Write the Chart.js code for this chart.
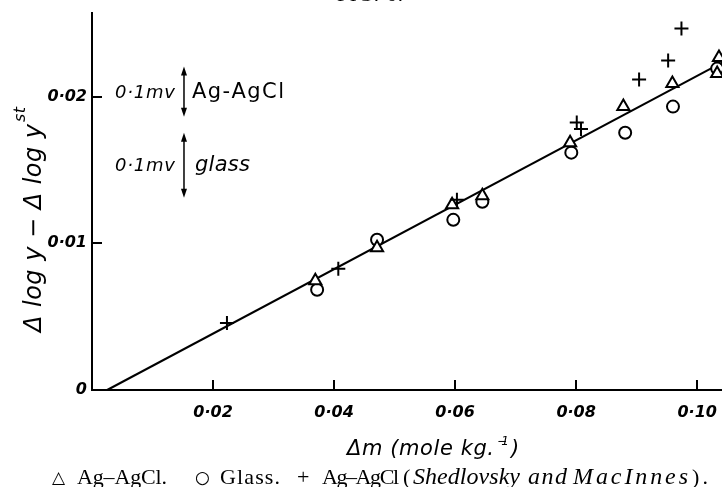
<!DOCTYPE html>
<html>
<head>
<meta charset="utf-8">
<script src="https://cdn.jsdelivr.net/npm/chart.js@4"></script>
<style>
  html, body { margin: 0; padding: 0; background: #fff; }
  #wrap { position: relative; width: 722px; height: 487px; overflow: hidden; }
  #fig { position: absolute; left: 337px; top: -16px; font: 21px "Liberation Serif"; letter-spacing: 1px; line-height: 21px; color: #000; }
</style>
</head>
<body>
<div id="wrap">
  <canvas id="canvas" width="722" height="487"></canvas>
  <div id="fig">FIG. 6.</div>
</div>
<script>
// data (x = delta m, y = delta log y - delta log y st)
const agX    = [0.0369, 0.0471, 0.0595, 0.0645, 0.0790, 0.0878, 0.0959, 0.1036, 0.1033];
const agY    = [0.00744, 0.0097, 0.01263, 0.01324, 0.01686, 0.01932, 0.02089, 0.02266, 0.02157];
const glassX = [0.0372, 0.0471, 0.0597, 0.0645, 0.0792, 0.0881, 0.0960, 0.1033];
const glassY = [0.00683, 0.01024, 0.0116, 0.01283, 0.01618, 0.01754, 0.01932, 0.02191];
const smX    = [0.0223, 0.0407, 0.0603, 0.0801, 0.0808, 0.0904, 0.0952, 0.0974];
const smY    = [0.00457, 0.00826, 0.01297, 0.01823, 0.0178, 0.02116, 0.02246, 0.02464];
const fitX   = [0.0025, 0.1045];
const fitY   = [0, 0.0224];
const xTicks = [0.02, 0.04, 0.06, 0.08, 0.10];
const yTicks = [0, 0.01, 0.02];

// the two "0.1 mv" bars, in data units
const barX = 0.0152;
const barLabels = ["Ag-AgCl", "glass"];
const barTop = [0.02205, 0.01754];
const barBottom = [0.01863, 0.01311];

const pts = (xs, ys) => xs.map((x, i) => ({ x: x, y: ys[i] }));
const fmt = v => v === 0 ? "0" : v.toFixed(2).replace(".", "\u00b7");

// draw text char by char, spreading it between x0 and x1
function spaced(ctx, text, x0, x1, y, font) {
  ctx.font = font;
  const chars = Array.from(text);
  const w = chars.map(c => ctx.measureText(c).width);
  const natural = w.reduce((a, b) => a + b, 0);
  const gap = chars.length > 1 ? (x1 - x0 - natural) / (chars.length - 1) : 0;
  let x = x0;
  chars.forEach((c, i) => { ctx.fillText(c, x, y); x += w[i] + gap; });
}

function arrowHead(ctx, x, y, dir) {
  ctx.beginPath();
  ctx.moveTo(x, y);
  ctx.lineTo(x - 3, y - dir * 9);
  ctx.lineTo(x + 3, y - dir * 9);
  ctx.closePath();
  ctx.fill();
}

const decor = {
  id: "decor",
  afterDraw(chart) {
    const { ctx, chartArea: a } = chart;
    const xs = chart.scales.x, ys = chart.scales.y;
    ctx.save();
    ctx.strokeStyle = "#000";
    ctx.fillStyle = "#000";
    ctx.textAlign = "left";
    ctx.textBaseline = "alphabetic";

    // inward tick marks
    ctx.lineWidth = 2;
    xTicks.forEach(v => {
      const px = Math.round(xs.getPixelForValue(v));
      ctx.beginPath(); ctx.moveTo(px, a.bottom); ctx.lineTo(px, a.bottom - 10); ctx.stroke();
    });
    yTicks.forEach(v => {
      const py = Math.round(ys.getPixelForValue(v));
      ctx.beginPath(); ctx.moveTo(a.left, py); ctx.lineTo(a.left + 10, py); ctx.stroke();
    });

    // 0.1 mv bars
    const bx = xs.getPixelForValue(barX);
    barLabels.forEach((lab, i) => {
      const t = ys.getPixelForValue(barTop[i]);
      const b = ys.getPixelForValue(barBottom[i]);
      ctx.lineWidth = 1.5;
      ctx.beginPath(); ctx.moveTo(bx, t + 4); ctx.lineTo(bx, b - 4); ctx.stroke();
      arrowHead(ctx, bx, t, -1);
      arrowHead(ctx, bx, b, 1);
      const base = (t + b) / 2 + 6;
      spaced(ctx, "0\u00b71mv", bx - 69, bx - 9, base, "italic 18px 'DejaVu Sans'");
      if (i === 0) spaced(ctx, lab, bx + 8, bx + 100, base, "21px 'DejaVu Sans'");
      else spaced(ctx, lab, bx + 11, bx + 66, base, "italic 21px 'DejaVu Sans'");
    });

    // x title
    spaced(ctx, "\u0394m (mole kg.", 347, 494, 455, "italic 21px 'DejaVu Sans'");
    spaced(ctx, "\u22121", 497, 509, 445, "italic 12px 'DejaVu Sans'");
    spaced(ctx, ")", 511, 518, 455, "italic 21px 'DejaVu Sans'");

    // y title, rotated
    ctx.save();
    ctx.translate(41, 332);
    ctx.rotate(-Math.PI / 2);
    spaced(ctx, "\u0394 log y \u2212 \u0394 log y", 0, 208, 0, "italic 24px 'DejaVu Sans'");
    spaced(ctx, "st", 210, 225, -16, "italic 16px 'DejaVu Sans'");
    ctx.restore();

    // caption
    const serif = "22px 'Liberation Serif'";
    const serifIt = "italic 24px 'Liberation Serif'";
    spaced(ctx, "\u25b3", 52, 67, 483, "17px 'DejaVu Sans'");
    spaced(ctx, "Ag\u2013AgCl.", 77, 167, 484, serif);
    spaced(ctx, "\u25cb", 195, 209, 483, "17px 'DejaVu Sans'");
    spaced(ctx, "Glass.", 220, 280, 484, serif);
    spaced(ctx, "+", 297, 312, 484, serif);
    spaced(ctx, "Ag\u2013AgCl", 322, 399, 484, serif);
    spaced(ctx, "(", 403, 410, 484, serif);
    spaced(ctx, "Shedlovsky", 413, 520, 484, serifIt);
    spaced(ctx, "and", 528, 567, 484, serifIt);
    spaced(ctx, "MacInnes", 573, 688, 484, serifIt);
    spaced(ctx, ").", 692, 708, 484, serif);

    ctx.restore();
  }
};

const tickFont = { family: "DejaVu Sans", size: 16, style: "italic", weight: "bold" };

new Chart(document.getElementById("canvas").getContext("2d"), {
  type: "scatter",
  data: {
    datasets: [
      {
        type: "line", label: "fit", data: pts(fitX, fitY),
        borderColor: "#000", borderWidth: 2, pointRadius: 0, fill: false, order: 10, clip: false
      },
      {
        label: "Ag-AgCl", data: pts(agX, agY), pointStyle: "triangle", pointRadius: 7,
        borderColor: "#000", backgroundColor: "#fff", borderWidth: 2, order: 1, clip: false
      },
      {
        label: "Glass", data: pts(glassX, glassY), pointStyle: "circle", pointRadius: 6,
        borderColor: "#000", backgroundColor: "#fff", borderWidth: 2, order: 2, clip: false
      },
      {
        label: "Ag-AgCl (Shedlovsky and MacInnes)", data: pts(smX, smY), pointStyle: "cross", pointRadius: 7,
        borderColor: "#000", borderWidth: 2, order: 0, clip: false
      }
    ]
  },
  options: {
    responsive: false,
    animation: false,
    layout: { autoPadding: false, padding: { top: 13, right: 0, left: 0, bottom: 0 } },
    plugins: { legend: { display: false }, tooltip: { enabled: false } },
    scales: {
      x: {
        type: "linear", min: 0, max: 0.1041,
        afterFit: s => { s.height = 97; s.paddingLeft = 0; s.paddingRight = 0; },
        afterBuildTicks: s => { s.ticks = xTicks.map(v => ({ value: v })); },
        grid: { display: false, drawTicks: false },
        border: { display: true, color: "#000", width: 2 },
        ticks: { padding: 13, color: "#000", font: tickFont, maxRotation: 0, callback: fmt }
      },
      y: {
        type: "linear", min: 0, max: 0.0257,
        afterFit: s => { s.width = 92; s.paddingTop = 0; s.paddingBottom = 0; },
        afterBuildTicks: s => { s.ticks = yTicks.map(v => ({ value: v })); },
        grid: { display: false, drawTicks: false },
        border: { display: true, color: "#000", width: 2 },
        ticks: { padding: 5, color: "#000", font: tickFont, callback: fmt }
      }
    }
  },
  plugins: [decor]
});
</script>
</body>
</html>
